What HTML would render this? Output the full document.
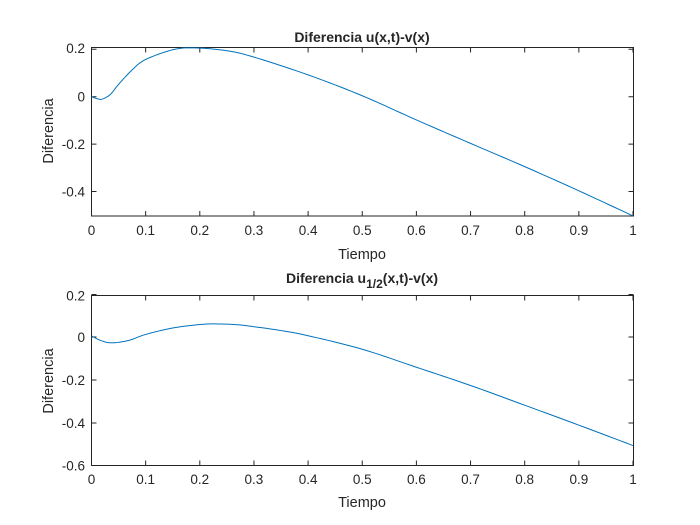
<!DOCTYPE html>
<html><head><meta charset="utf-8"><style>
html,body{margin:0;padding:0;background:#fff}
svg{display:block}
text{font-family:"Liberation Sans",Arial,sans-serif;fill:#262626}
</style></head><body>
<svg id="s" width="700" height="525" viewBox="0 0 700 525" xmlns="http://www.w3.org/2000/svg">
<rect width="700" height="525" fill="#fff"/>
<g font-size="13.5">
<rect x="91.5" y="47.5" width="542" height="168.5" fill="none" stroke="#262626" stroke-width="1"/>
<text x="362" y="42" text-anchor="middle" font-weight="bold" font-size="14" fill="#000">Diferencia u(x,t)-v(x)</text>
<text x="362" y="259" text-anchor="middle" font-size="14.5">Tiempo</text>
<text transform="translate(53,131) rotate(-90)" text-anchor="middle" font-size="14.5">Diferencia</text>
<g id="xt1"></g>
<text x="85" y="53" text-anchor="end">0.2</text>
<text x="85" y="101.5" text-anchor="end">0</text>
<text x="85" y="149" text-anchor="end">-0.2</text>
<text x="85" y="196.5" text-anchor="end">-0.4</text>
<rect x="91.5" y="295.5" width="542" height="170" fill="none" stroke="#262626" stroke-width="1"/>
<text x="362" y="283" text-anchor="middle" font-weight="bold" font-size="14" fill="#000">Diferencia u<tspan dy="5" font-size="12">1/2</tspan><tspan dy="-5">(x,t)-v(x)</tspan></text>
<text x="362" y="507" text-anchor="middle" font-size="14.5">Tiempo</text>
<text transform="translate(53,381) rotate(-90)" text-anchor="middle" font-size="14.5">Diferencia</text>
<g id="xt2"></g>
<text x="85" y="300.5" text-anchor="end">0.2</text>
<text x="85" y="342" text-anchor="end">0</text>
<text x="85" y="385" text-anchor="end">-0.2</text>
<text x="85" y="428" text-anchor="end">-0.4</text>
<text x="85" y="470.5" text-anchor="end">-0.6</text>
</g>
<g id="ticks" stroke="#262626" stroke-width="1"></g>
<path id="c1" fill="none" stroke="#0072bd" stroke-width="1"/>
<path id="c2" fill="none" stroke="#0072bd" stroke-width="1"/>
</svg>
<script>
var NS="http://www.w3.org/2000/svg";
function X(t){return 91.5+541.5*t;}
var tk=document.getElementById('ticks'),d='';
for(var i=0;i<=10;i++){var x=X(i/10);
 d+='M'+x+' 216V211M'+x+' 47.5V52.5M'+x+' 465.5V460.5M'+x+' 295.5V300.5';
 ['xt1','xt2'].forEach(function(id,k){var e=document.createElementNS(NS,'text');e.setAttribute('x',x);e.setAttribute('y',k?484:235);e.setAttribute('text-anchor','middle');e.textContent=(i==0?'0':i==10?'1':'0.'+i);document.getElementById(id).appendChild(e);});
}
[96.7,49.3,144.1,191.5].forEach(function(y){d+='M91.5 '+y+'H96.5M633.5 '+y+'H628.5';});
[337,294.5,380,423,465.5].forEach(function(y){d+='M91.5 '+y+'H96.5M633.5 '+y+'H628.5';});
var p=document.createElementNS(NS,'path');p.setAttribute('d',d);tk.appendChild(p);
function cr(P,Y){
 var s='M'+X(P[0][0])+' '+Y(P[0][1]);
 for(var i=0;i<P.length-1;i++){var p0=P[Math.max(0,i-1)],p1=P[i],p2=P[i+1],p3=P[Math.min(P.length-1,i+2)];
  for(var j=1;j<=10;j++){var u=j/10,u2=u*u,u3=u2*u;
   var cx=0.5*((2*p1[0])+(-p0[0]+p2[0])*u+(2*p0[0]-5*p1[0]+4*p2[0]-p3[0])*u2+(-p0[0]+3*p1[0]-3*p2[0]+p3[0])*u3);
   var cy=0.5*((2*p1[1])+(-p0[1]+p2[1])*u+(2*p0[1]-5*p1[1]+4*p2[1]-p3[1])*u2+(-p0[1]+3*p1[1]-3*p2[1]+p3[1])*u3);
   s+='L'+X(cx).toFixed(2)+' '+Y(cy).toFixed(2);}}
 return s;}
var P1=[[0,0],[0.01,-0.008],[0.02,-0.01],[0.035,0.01],[0.05,0.052],[0.075,0.113],[0.1,0.157],[0.15,0.198],[0.19,0.206],[0.25,0.194],[0.3,0.167],[0.4,0.092],[0.5,0.004],[0.6,-0.098],[0.7,-0.197],[0.8,-0.295],[0.9,-0.397],[1,-0.503]];
document.getElementById('c1').setAttribute('d',cr(P1,function(v){return 96.7-v*237;}));
var P=[[0,0.005],[0.02,-0.019],[0.04,-0.027],[0.07,-0.015],[0.1,0.012],[0.15,0.042],[0.2,0.058],[0.23,0.061],[0.27,0.057],[0.3,0.048],[0.35,0.03],[0.4,0.006],[0.5,-0.057],[0.6,-0.141],[0.7,-0.226],[0.8,-0.318],[0.9,-0.411],[1,-0.506]];
document.getElementById('c2').setAttribute('d',cr(P,function(v){return 337-v*214.5;}));
</script>
</body></html>
